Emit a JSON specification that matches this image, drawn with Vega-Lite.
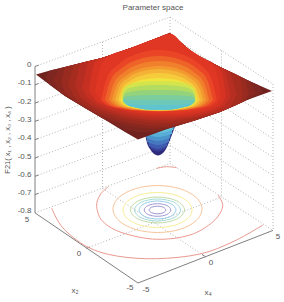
{"$schema":"https://vega.github.io/schema/vega-lite/v6.json","width":284,"height":302,"padding":0,"autosize":{"type":"fit","contains":"padding"},"background":"white","config":{"view":{"stroke":null}},
"encoding":{"x":{"field":"u","type":"quantitative","axis":null,"scale":{"domain":[0,284],"nice":false,"zero":false}}},
"layer":[
{"data":{"values":[
{"id":"a0","u":35,"v":66.5},{"id":"a0","u":170,"v":17},{"id":"a1","u":35,"v":84.8},{"id":"a1","u":170,"v":35.3},{"id":"a2","u":35,"v":103.1},{"id":"a2","u":170,"v":53.6},{"id":"a3","u":35,"v":121.4},{"id":"a3","u":170,"v":71.9},{"id":"a4","u":35,"v":139.7},{"id":"a4","u":170,"v":90.2},{"id":"a5","u":35,"v":158},{"id":"a5","u":170,"v":108.5},{"id":"a6","u":35,"v":176.3},{"id":"a6","u":170,"v":126.8},{"id":"a7","u":35,"v":194.6},{"id":"a7","u":170,"v":145.1},{"id":"a8","u":35,"v":212.9},{"id":"a8","u":170,"v":163.4},
{"id":"b0","u":170,"v":17},{"id":"b0","u":273,"v":84},{"id":"b1","u":170,"v":35.3},{"id":"b1","u":273,"v":102.3},{"id":"b2","u":170,"v":53.6},{"id":"b2","u":273,"v":120.6},{"id":"b3","u":170,"v":71.9},{"id":"b3","u":273,"v":138.9},{"id":"b4","u":170,"v":90.2},{"id":"b4","u":273,"v":157.2},{"id":"b5","u":170,"v":108.5},{"id":"b5","u":273,"v":175.5},{"id":"b6","u":170,"v":126.8},{"id":"b6","u":273,"v":193.8},{"id":"b7","u":170,"v":145.1},{"id":"b7","u":273,"v":212.1},{"id":"b8","u":170,"v":163.4},{"id":"b8","u":273,"v":230.4},
{"id":"c0","u":102.5,"v":42},{"id":"c0","u":102.5,"v":188.4},{"id":"c1","u":170,"v":17},{"id":"c1","u":170,"v":163.4},{"id":"c2","u":221.5,"v":50.5},{"id":"c2","u":221.5,"v":197},{"id":"c3","u":273,"v":84},{"id":"c3","u":273,"v":230.4},
{"id":"d0","u":86.5,"v":248.3},{"id":"d0","u":221.5,"v":197},{"id":"d1","u":205.5,"v":256.7},{"id":"d1","u":102.5,"v":188.4}
]},"mark":{"type":"line","stroke":"#b4b4b4","strokeWidth":1,"strokeDash":[1,2]},"encoding":{"y":{"field":"v","type":"quantitative","axis":null,"scale":{"domain":[302,0],"nice":false,"zero":false}},"detail":{"field":"id"}}},
{"data":{"values":[
{"id":"s0","u":35,"v":66.5},{"id":"s0","u":35,"v":212.9},{"id":"s1","u":35,"v":212.9},{"id":"s1","u":138,"v":283},{"id":"s2","u":138,"v":283},{"id":"s2","u":273,"v":230.4},
{"id":"t0","u":35,"v":66.5},{"id":"t0","u":38.5,"v":65.2},{"id":"t1","u":35,"v":84.8},{"id":"t1","u":38.5,"v":83.5},{"id":"t2","u":35,"v":103.1},{"id":"t2","u":38.5,"v":101.8},{"id":"t3","u":35,"v":121.4},{"id":"t3","u":38.5,"v":120.1},{"id":"t4","u":35,"v":139.7},{"id":"t4","u":38.5,"v":138.4},{"id":"t5","u":35,"v":158},{"id":"t5","u":38.5,"v":156.7},{"id":"t6","u":35,"v":176.3},{"id":"t6","u":38.5,"v":175},{"id":"t7","u":35,"v":194.6},{"id":"t7","u":38.5,"v":193.3},
{"id":"t8","u":86.5,"v":248.3},{"id":"t8","u":90,"v":247},{"id":"t9","u":205.5,"v":256.7},{"id":"t9","u":202,"v":254.5}
]},"mark":{"type":"line","stroke":"#808080","strokeWidth":1},"encoding":{"y":{"field":"v","type":"quantitative","axis":null,"scale":{"domain":[302,0],"nice":false,"zero":false}},"detail":{"field":"id"}}},
{"data":{"values":[
{"ring":"r1","i":0,"u":165.8,"v":210},{"ring":"r1","i":1,"u":163.4,"v":212.7},{"ring":"r1","i":2,"u":157.5,"v":213.8},{"ring":"r1","i":3,"u":151.6,"v":212.7},{"ring":"r1","i":4,"u":149.2,"v":210},{"ring":"r1","i":5,"u":151.6,"v":207.3},{"ring":"r1","i":6,"u":157.5,"v":206.2},{"ring":"r1","i":7,"u":163.4,"v":207.3},
{"ring":"r2","i":0,"u":170.8,"v":210},{"ring":"r2","i":1,"u":166.9,"v":214.5},{"ring":"r2","i":2,"u":157.5,"v":216.3},{"ring":"r2","i":3,"u":148.1,"v":214.5},{"ring":"r2","i":4,"u":144.2,"v":210},{"ring":"r2","i":5,"u":148.1,"v":205.5},{"ring":"r2","i":6,"u":157.5,"v":203.7},{"ring":"r2","i":7,"u":166.9,"v":205.5},
{"ring":"r3","i":0,"u":176,"v":210},{"ring":"r3","i":1,"u":170.6,"v":216.4},{"ring":"r3","i":2,"u":157.5,"v":219},{"ring":"r3","i":3,"u":144.4,"v":216.4},{"ring":"r3","i":4,"u":139,"v":210},{"ring":"r3","i":5,"u":144.4,"v":203.6},{"ring":"r3","i":6,"u":157.5,"v":201},{"ring":"r3","i":7,"u":170.6,"v":203.6},
{"ring":"r4","i":0,"u":180.5,"v":210},{"ring":"r4","i":1,"u":173.8,"v":217.8},{"ring":"r4","i":2,"u":157.5,"v":221},{"ring":"r4","i":3,"u":141.2,"v":217.8},{"ring":"r4","i":4,"u":134.5,"v":210},{"ring":"r4","i":5,"u":141.2,"v":202.2},{"ring":"r4","i":6,"u":157.5,"v":199},{"ring":"r4","i":7,"u":173.8,"v":202.2},
{"ring":"r5","i":0,"u":184.5,"v":210},{"ring":"r5","i":1,"u":176.6,"v":219.2},{"ring":"r5","i":2,"u":157.5,"v":223},{"ring":"r5","i":3,"u":138.4,"v":219.2},{"ring":"r5","i":4,"u":130.5,"v":210},{"ring":"r5","i":5,"u":138.4,"v":200.8},{"ring":"r5","i":6,"u":157.5,"v":197},{"ring":"r5","i":7,"u":176.6,"v":200.8},
{"ring":"r6","i":0,"u":192,"v":210},{"ring":"r6","i":1,"u":187.4,"v":218.8},{"ring":"r6","i":2,"u":174.8,"v":225.2},{"ring":"r6","i":3,"u":157.5,"v":227.5},{"ring":"r6","i":4,"u":140.3,"v":225.2},{"ring":"r6","i":5,"u":127.6,"v":218.8},{"ring":"r6","i":6,"u":123,"v":210},{"ring":"r6","i":7,"u":127.6,"v":201.2},{"ring":"r6","i":8,"u":140.3,"v":194.8},{"ring":"r6","i":9,"u":157.5,"v":192.5},{"ring":"r6","i":10,"u":174.8,"v":194.8},{"ring":"r6","i":11,"u":187.4,"v":201.2},
{"ring":"r7","i":0,"u":202,"v":209},{"ring":"r7","i":1,"u":196,"v":220.8},{"ring":"r7","i":2,"u":179.8,"v":229.4},{"ring":"r7","i":3,"u":157.5,"v":232.5},{"ring":"r7","i":4,"u":135.3,"v":229.4},{"ring":"r7","i":5,"u":119,"v":220.8},{"ring":"r7","i":6,"u":113,"v":209},{"ring":"r7","i":7,"u":119,"v":197.3},{"ring":"r7","i":8,"u":135.3,"v":188.7},{"ring":"r7","i":9,"u":157.5,"v":185.5},{"ring":"r7","i":10,"u":179.8,"v":188.7},{"ring":"r7","i":11,"u":196,"v":197.3}
]},"mark":{"type":"line","interpolate":"cardinal-closed","strokeWidth":1},"encoding":{"y":{"field":"v","type":"quantitative","axis":null,"scale":{"domain":[302,0],"nice":false,"zero":false}},"order":{"field":"i","type":"quantitative"},"stroke":{"field":"ring","type":"nominal","legend":null,"scale":{"domain":["r1","r2","r3","r4","r5","r6","r7","r8","r9","r10"],"range":["#9a92cc","#a09ad6","#98cdea","#a6dcd8","#c2dca6","#f7ee98","#f8c49a","#ec9a90","#e89a90","#e89a90"]}}}},
{"data":{"values":[
{"ring":"r8","i":0,"u":108.3,"v":186.7},{"ring":"r8","i":1,"u":100,"v":195},{"ring":"r8","i":2,"u":96.7,"v":206.7},{"ring":"r8","i":3,"u":103,"v":221.7},{"ring":"r8","i":4,"u":123,"v":233},{"ring":"r8","i":5,"u":156.7,"v":239.3},{"ring":"r8","i":6,"u":190,"v":235},{"ring":"r8","i":7,"u":213,"v":221.7},{"ring":"r8","i":8,"u":222.7,"v":206.7},{"ring":"r8","i":9,"u":218,"v":195},
{"ring":"r9","i":0,"u":51.7,"v":208.3},{"ring":"r9","i":1,"u":63,"v":228},{"ring":"r9","i":2,"u":87,"v":246.7},{"ring":"r9","i":3,"u":116.7,"v":256},{"ring":"r9","i":4,"u":156.7,"v":258.7},{"ring":"r9","i":5,"u":200,"v":254},{"ring":"r9","i":6,"u":233,"v":241.7},{"ring":"r9","i":7,"u":263,"v":225},
{"ring":"r10","i":0,"u":156.7,"v":168.3},{"ring":"r10","i":1,"u":166.7,"v":166.7},{"ring":"r10","i":2,"u":176.7,"v":167.7}
]},"mark":{"type":"line","interpolate":"cardinal","strokeWidth":1},"encoding":{"y":{"field":"v","type":"quantitative","axis":null,"scale":{"domain":[302,0],"nice":false,"zero":false}},"order":{"field":"i","type":"quantitative"},"stroke":{"field":"ring","type":"nominal","legend":null,"scale":{"domain":["r1","r2","r3","r4","r5","r6","r7","r8","r9","r10"],"range":["#9a92cc","#a09ad6","#98cdea","#a6dcd8","#c2dca6","#f7ee98","#f8c49a","#ec9a90","#e89a90","#e89a90"]}}}},
{"data":{"values":[
{"band":"n0","u":144.5,"top":120,"bot":130},{"band":"n0","u":147,"top":120,"bot":143},{"band":"n0","u":150,"top":120,"bot":149},{"band":"n0","u":153,"top":120,"bot":153},{"band":"n0","u":158,"top":120,"bot":155.5},{"band":"n0","u":163,"top":120,"bot":153},{"band":"n0","u":166,"top":120,"bot":149},{"band":"n0","u":170,"top":120,"bot":140},{"band":"n0","u":175.5,"top":120,"bot":125},
{"band":"n1","u":150.7,"top":120,"bot":149},{"band":"n1","u":158,"top":120,"bot":151.5},{"band":"n1","u":165.4,"top":120,"bot":149},
{"band":"n2","u":148.6,"top":120,"bot":146},{"band":"n2","u":158,"top":120,"bot":149},{"band":"n2","u":167.3,"top":120,"bot":146},
{"band":"n3","u":147,"top":120,"bot":142},{"band":"n3","u":158,"top":120,"bot":145},{"band":"n3","u":169,"top":120,"bot":142},
{"band":"n4","u":146.2,"top":120,"bot":138},{"band":"n4","u":158,"top":120,"bot":141},{"band":"n4","u":170.3,"top":120,"bot":138},
{"band":"n5","u":145.4,"top":120,"bot":134},{"band":"n5","u":158,"top":120,"bot":137},{"band":"n5","u":172,"top":120,"bot":134},
{"band":"n6","u":144.8,"top":120,"bot":130},{"band":"n6","u":158,"top":120,"bot":133},{"band":"n6","u":173.5,"top":120,"bot":130}
]},"mark":{"type":"area","orient":"vertical","interpolate":"monotone"},"encoding":{"y":{"field":"top","type":"quantitative","axis":null,"scale":{"domain":[302,0],"nice":false,"zero":false}},"y2":{"field":"bot"},"fill":{"field":"band","type":"nominal","legend":null,"scale":{"domain":["n0","n1","n2","n3","n4","n5","n6","A0","A1","A2","A3","A4","A5","A6","A7","A8","a","b","c","d","e","f","g","h","i","j","k","l","m"],"range":["#2f2a7a","#383f98","#3f5cb0","#4678c0","#4c94cc","#58aed6","#66c4da","#70221e","#7e2620","#8a2820","#982a20","#a62c20","#b62e21","#c63022","#d63323","#e03624","#ea4526","#ee6428","#f0802c","#f29a30","#f4b236","#f6cc3c","#f0e43e","#d4e44c","#b4dc60","#94d27c","#7ccc9c","#6cc8b8","#60c4d0"]}}}},
{"data":{"values":[
{"band":"A0","u":36,"top":74.5,"bot":74.5},{"band":"A0","u":50,"top":70.6,"bot":85},{"band":"A0","u":65,"top":67,"bot":96},{"band":"A0","u":85,"top":62,"bot":108},{"band":"A0","u":102,"top":58,"bot":118},{"band":"A0","u":125,"top":50,"bot":132},{"band":"A0","u":138,"top":45.6,"bot":139.5},{"band":"A0","u":152,"top":40,"bot":134.5},{"band":"A0","u":170,"top":33,"bot":128},{"band":"A0","u":193,"top":53,"bot":121},{"band":"A0","u":220,"top":67,"bot":112},{"band":"A0","u":247,"top":80,"bot":100},{"band":"A0","u":272,"top":91,"bot":91},
{"band":"A1","u":45,"top":77.1,"bot":77.1},{"band":"A1","u":50,"top":70.6,"bot":85},{"band":"A1","u":65,"top":67,"bot":96},{"band":"A1","u":85,"top":62,"bot":108},{"band":"A1","u":102,"top":58,"bot":118},{"band":"A1","u":125,"top":50,"bot":130},{"band":"A1","u":138,"top":45.6,"bot":132},{"band":"A1","u":152,"top":40,"bot":132.5},{"band":"A1","u":170,"top":33,"bot":128},{"band":"A1","u":193,"top":53,"bot":121},{"band":"A1","u":220,"top":67,"bot":112},{"band":"A1","u":247,"top":80,"bot":100},{"band":"A1","u":258,"top":85,"bot":95},{"band":"A1","u":263,"top":92,"bot":92},
{"band":"A2","u":53,"top":79.5,"bot":79.5},{"band":"A2","u":60,"top":68.2,"bot":92.3},{"band":"A2","u":65,"top":67,"bot":96},{"band":"A2","u":85,"top":62,"bot":108},{"band":"A2","u":102,"top":58,"bot":118},{"band":"A2","u":125,"top":50,"bot":125.2},{"band":"A2","u":138,"top":45.6,"bot":127.4},{"band":"A2","u":152,"top":40,"bot":128.8},{"band":"A2","u":170,"top":33,"bot":128},{"band":"A2","u":193,"top":53,"bot":121},{"band":"A2","u":220,"top":67,"bot":112},{"band":"A2","u":240,"top":76.6,"bot":103},{"band":"A2","u":250,"top":81.3,"bot":97},{"band":"A2","u":256,"top":92.9,"bot":92.9},
{"band":"A3","u":61,"top":81.8,"bot":81.8},{"band":"A3","u":65,"top":67,"bot":93.1},{"band":"A3","u":85,"top":62,"bot":108},{"band":"A3","u":102,"top":58,"bot":115.7},{"band":"A3","u":125,"top":50,"bot":122.2},{"band":"A3","u":138,"top":45.6,"bot":124.3},{"band":"A3","u":152,"top":40,"bot":125.9},{"band":"A3","u":170,"top":33,"bot":126.4},{"band":"A3","u":193,"top":53,"bot":121},{"band":"A3","u":220,"top":67,"bot":112},{"band":"A3","u":235,"top":73.8,"bot":105.8},{"band":"A3","u":245,"top":79,"bot":101},{"band":"A3","u":249,"top":93.7,"bot":93.7},
{"band":"A4","u":68,"top":83.9,"bot":83.9},{"band":"A4","u":74,"top":65.1,"bot":96.6},{"band":"A4","u":85,"top":62,"bot":105},{"band":"A4","u":102,"top":58,"bot":112.7},{"band":"A4","u":125,"top":50,"bot":119},{"band":"A4","u":138,"top":45.6,"bot":121.3},{"band":"A4","u":152,"top":40,"bot":122.8},{"band":"A4","u":170,"top":33,"bot":123.3},{"band":"A4","u":193,"top":53,"bot":121},{"band":"A4","u":220,"top":67,"bot":112},{"band":"A4","u":232,"top":72.8,"bot":106.7},{"band":"A4","u":240,"top":76.6,"bot":103},{"band":"A4","u":243,"top":94.4,"bot":94.4},
{"band":"A5","u":75,"top":85.9,"bot":85.9},{"band":"A5","u":80,"top":63.4,"bot":96.6},{"band":"A5","u":90,"top":60.8,"bot":104.2},{"band":"A5","u":102,"top":58,"bot":109.9},{"band":"A5","u":125,"top":50,"bot":116.6},{"band":"A5","u":138,"top":45.6,"bot":118.8},{"band":"A5","u":152,"top":40,"bot":120.3},{"band":"A5","u":170,"top":33,"bot":120.8},{"band":"A5","u":193,"top":53,"bot":118},{"band":"A5","u":220,"top":67,"bot":112},{"band":"A5","u":230,"top":71.8,"bot":106.9},{"band":"A5","u":237,"top":95.1,"bot":95.1},
{"band":"A6","u":82,"top":87.9,"bot":87.9},{"band":"A6","u":88,"top":61.3,"bot":98.5},{"band":"A6","u":98,"top":59,"bot":104.8},{"band":"A6","u":110,"top":55.2,"bot":109.9},{"band":"A6","u":125,"top":50,"bot":113.9},{"band":"A6","u":138,"top":45.6,"bot":116.2},{"band":"A6","u":152,"top":40,"bot":117.7},{"band":"A6","u":170,"top":33,"bot":118.3},{"band":"A6","u":193,"top":53,"bot":116.6},{"band":"A6","u":215,"top":64.4,"bot":111.1},{"band":"A6","u":225,"top":69.4,"bot":105.8},{"band":"A6","u":231,"top":95.8,"bot":95.8}
]},"mark":{"type":"area","orient":"vertical","interpolate":"linear"},"encoding":{"y":{"field":"top","type":"quantitative","axis":null,"scale":{"domain":[302,0],"nice":false,"zero":false}},"y2":{"field":"bot"},"fill":{"field":"band","type":"nominal","legend":null,"scale":{"domain":["n0","n1","n2","n3","n4","n5","n6","A0","A1","A2","A3","A4","A5","A6","A7","A8","a","b","c","d","e","f","g","h","i","j","k","l","m"],"range":["#2f2a7a","#383f98","#3f5cb0","#4678c0","#4c94cc","#58aed6","#66c4da","#70221e","#7e2620","#8a2820","#982a20","#a62c20","#b62e21","#c63022","#d63323","#e03624","#ea4526","#ee6428","#f0802c","#f29a30","#f4b236","#f6cc3c","#f0e43e","#d4e44c","#b4dc60","#94d27c","#7ccc9c","#6cc8b8","#60c4d0"]}}}},
{"data":{"values":[
{"band":"A7","u":89,"top":89.9,"bot":89.9},{"band":"A7","u":95,"top":62.3,"bot":99.4},{"band":"A7","u":105,"top":57,"bot":105.1},{"band":"A7","u":115,"top":53.5,"bot":108.6},{"band":"A7","u":130,"top":48.4,"bot":112.3},{"band":"A7","u":145,"top":42.7,"bot":114.5},{"band":"A7","u":157.5,"top":37.8,"bot":115.5},{"band":"A7","u":170,"top":33.5,"bot":115.6},{"band":"A7","u":185,"top":46,"bot":115},{"band":"A7","u":205,"top":59.2,"bot":111.5},{"band":"A7","u":215,"top":64.4,"bot":108},{"band":"A7","u":222,"top":73.3,"bot":103.7},{"band":"A7","u":226,"top":96.4,"bot":96.4},
{"band":"A8","u":95,"top":91.7,"bot":91.7},{"band":"A8","u":101,"top":65.5,"bot":100},{"band":"A8","u":110,"top":55.4,"bot":104.8},{"band":"A8","u":125,"top":50.2,"bot":109.3},{"band":"A8","u":140,"top":44.2,"bot":111.9},{"band":"A8","u":158,"top":37.8,"bot":113.5},{"band":"A8","u":170,"top":34,"bot":113.7},{"band":"A8","u":185,"top":46.2,"bot":112.7},{"band":"A8","u":200,"top":56.8,"bot":110.3},{"band":"A8","u":212,"top":64.5,"bot":106.5},{"band":"A8","u":218,"top":77.8,"bot":102.7},{"band":"A8","u":221,"top":97,"bot":97},
{"band":"a","u":101,"top":100,"bot":100},{"band":"a","u":106.8,"top":78.2,"bot":105},{"band":"a","u":118.4,"top":64.3,"bot":108.2},{"band":"a","u":135.8,"top":54.2,"bot":110.5},{"band":"a","u":159,"top":50,"bot":111.5},{"band":"a","u":182.2,"top":54.2,"bot":110.5},{"band":"a","u":199.6,"top":64.3,"bot":108.2},{"band":"a","u":211.2,"top":78.2,"bot":105},{"band":"a","u":217,"top":100,"bot":100},
{"band":"b","u":105,"top":100,"bot":100},{"band":"b","u":110.4,"top":80.8,"bot":104.9},{"band":"b","u":121.2,"top":68.6,"bot":108},{"band":"b","u":137.4,"top":59.7,"bot":110.3},{"band":"b","u":159,"top":56,"bot":111.2},{"band":"b","u":180.6,"top":59.7,"bot":110.3},{"band":"b","u":196.8,"top":68.6,"bot":108},{"band":"b","u":207.6,"top":80.8,"bot":104.9},{"band":"b","u":213,"top":100,"bot":100},
{"band":"c","u":109,"top":100,"bot":100},{"band":"c","u":114,"top":83,"bot":104.8},{"band":"c","u":124,"top":72.2,"bot":107.9},{"band":"c","u":139,"top":64.2,"bot":110.1},{"band":"c","u":159,"top":61,"bot":111},{"band":"c","u":179,"top":64.2,"bot":110.1},{"band":"c","u":194,"top":72.2,"bot":107.9},{"band":"c","u":204,"top":83,"bot":104.8},{"band":"c","u":209,"top":100,"bot":100},
{"band":"d","u":112,"top":100,"bot":100},{"band":"d","u":116.7,"top":85.2,"bot":104.7},{"band":"d","u":126.1,"top":75.7,"bot":107.7},{"band":"d","u":140.2,"top":68.8,"bot":109.9},{"band":"d","u":159,"top":66,"bot":110.8},{"band":"d","u":177.8,"top":68.8,"bot":109.9},{"band":"d","u":191.9,"top":75.7,"bot":107.7},{"band":"d","u":201.3,"top":85.2,"bot":104.7},{"band":"d","u":206,"top":100,"bot":100},
{"band":"e","u":115,"top":100,"bot":100},{"band":"e","u":119.4,"top":86.5,"bot":104.6},{"band":"e","u":128.2,"top":77.9,"bot":107.6},{"band":"e","u":141.4,"top":71.6,"bot":109.7},{"band":"e","u":159,"top":69,"bot":110.6},{"band":"e","u":176.6,"top":71.6,"bot":109.7},{"band":"e","u":189.8,"top":77.9,"bot":107.6},{"band":"e","u":198.6,"top":86.5,"bot":104.6},{"band":"e","u":203,"top":100,"bot":100},
{"band":"f","u":118,"top":100,"bot":100},{"band":"f","u":122.1,"top":88.2,"bot":104.5},{"band":"f","u":130.3,"top":80.7,"bot":107.4},{"band":"f","u":142.6,"top":75.2,"bot":109.5},{"band":"f","u":159,"top":73,"bot":110.4},{"band":"f","u":175.4,"top":75.2,"bot":109.5},{"band":"f","u":187.7,"top":80.7,"bot":107.4},{"band":"f","u":195.9,"top":88.2,"bot":104.5},{"band":"f","u":200,"top":100,"bot":100},
{"band":"g","u":120.5,"top":100,"bot":100},{"band":"g","u":124.4,"top":90,"bot":104.4},{"band":"g","u":132.1,"top":83.6,"bot":107.3},{"band":"g","u":143.6,"top":79.5,"bot":109.4},{"band":"g","u":159,"top":78,"bot":110.2},{"band":"g","u":174.4,"top":79.5,"bot":109.4},{"band":"g","u":185.9,"top":83.6,"bot":107.3},{"band":"g","u":193.7,"top":90,"bot":104.4},{"band":"g","u":197.5,"top":100,"bot":100},
{"band":"h","u":122,"top":100,"bot":100},{"band":"h","u":122.7,"top":91.5,"bot":102},{"band":"h","u":125.7,"top":86.7,"bot":104.4},{"band":"h","u":133.1,"top":83.5,"bot":107.1},{"band":"h","u":144.2,"top":81.6,"bot":109.2},{"band":"h","u":159,"top":81,"bot":110},{"band":"h","u":173.8,"top":81.6,"bot":109.2},{"band":"h","u":184.9,"top":83.5,"bot":107.1},{"band":"h","u":192.3,"top":86.7,"bot":104.4},{"band":"h","u":195.3,"top":91.5,"bot":102},{"band":"h","u":196,"top":100,"bot":100},
{"band":"i","u":123,"top":100,"bot":100},{"band":"i","u":123.7,"top":93.3,"bot":102},{"band":"i","u":126.6,"top":89.5,"bot":104.4},{"band":"i","u":133.8,"top":87,"bot":107.1},{"band":"i","u":144.6,"top":85.5,"bot":109.2},{"band":"i","u":159,"top":85,"bot":110},{"band":"i","u":173.4,"top":85.5,"bot":109.2},{"band":"i","u":184.2,"top":87,"bot":107.1},{"band":"i","u":191.4,"top":89.5,"bot":104.4},{"band":"i","u":194.3,"top":93.3,"bot":102},{"band":"i","u":195,"top":100,"bot":100},
{"band":"j","u":123,"top":100,"bot":100},{"band":"j","u":123.7,"top":95.5,"bot":102},{"band":"j","u":126.6,"top":93,"bot":104.4},{"band":"j","u":133.8,"top":91.3,"bot":107.1},{"band":"j","u":144.6,"top":90.3,"bot":109.2},{"band":"j","u":159,"top":90,"bot":110},{"band":"j","u":173.4,"top":90.3,"bot":109.2},{"band":"j","u":184.2,"top":91.3,"bot":107.1},{"band":"j","u":191.4,"top":93,"bot":104.4},{"band":"j","u":194.3,"top":95.5,"bot":102},{"band":"j","u":195,"top":100,"bot":100},
{"band":"k","u":123,"top":100,"bot":100},{"band":"k","u":123.7,"top":97.75,"bot":102},{"band":"k","u":126.6,"top":96.5,"bot":104.4},{"band":"k","u":133.8,"top":95.7,"bot":107.1},{"band":"k","u":144.6,"top":95.2,"bot":109.2},{"band":"k","u":159,"top":95,"bot":110},{"band":"k","u":173.4,"top":95.2,"bot":109.2},{"band":"k","u":184.2,"top":95.7,"bot":107.1},{"band":"k","u":191.4,"top":96.5,"bot":104.4},{"band":"k","u":194.3,"top":97.75,"bot":102},{"band":"k","u":195,"top":100,"bot":100},
{"band":"l","u":123,"top":100,"bot":100},{"band":"l","u":126.6,"top":100,"bot":104.4},{"band":"l","u":133.8,"top":100,"bot":107.1},{"band":"l","u":144.6,"top":100,"bot":109.2},{"band":"l","u":159,"top":100,"bot":110},{"band":"l","u":173.4,"top":100,"bot":109.2},{"band":"l","u":184.2,"top":100,"bot":107.1},{"band":"l","u":191.4,"top":100,"bot":104.4},{"band":"l","u":195,"top":100,"bot":100},
{"band":"m","u":126.6,"top":103.5,"bot":104.4},{"band":"m","u":133.8,"top":104.4,"bot":107.1},{"band":"m","u":144.6,"top":104.9,"bot":109.2},{"band":"m","u":159,"top":105,"bot":110},{"band":"m","u":173.4,"top":104.9,"bot":109.2},{"band":"m","u":184.2,"top":104.4,"bot":107.1},{"band":"m","u":191.4,"top":103.5,"bot":104.4}
]},"mark":{"type":"area","orient":"vertical","interpolate":"monotone"},"encoding":{"y":{"field":"top","type":"quantitative","axis":null,"scale":{"domain":[302,0],"nice":false,"zero":false}},"y2":{"field":"bot"},"fill":{"field":"band","type":"nominal","legend":null,"scale":{"domain":["n0","n1","n2","n3","n4","n5","n6","A0","A1","A2","A3","A4","A5","A6","A7","A8","a","b","c","d","e","f","g","h","i","j","k","l","m"],"range":["#2f2a7a","#383f98","#3f5cb0","#4678c0","#4c94cc","#58aed6","#66c4da","#70221e","#7e2620","#8a2820","#982a20","#a62c20","#b62e21","#c63022","#d63323","#e03624","#ea4526","#ee6428","#f0802c","#f29a30","#f4b236","#f6cc3c","#f0e43e","#d4e44c","#b4dc60","#94d27c","#7ccc9c","#6cc8b8","#60c4d0"]}}}},
{"data":{"values":[
{"label":"0","u":31.5,"v":65},{"label":"-0.1","u":31.5,"v":83.3},{"label":"-0.2","u":31.5,"v":101.6},{"label":"-0.3","u":31.5,"v":119.9},{"label":"-0.4","u":31.5,"v":138.2},{"label":"-0.5","u":31.5,"v":156.5},{"label":"-0.6","u":31.5,"v":174.8},{"label":"-0.7","u":31.5,"v":193.1},{"label":"-0.8","u":31.5,"v":211.4}
]},"mark":{"type":"text","align":"right","baseline":"middle","font":"Liberation Sans","fontSize":8,"fill":"#555555"},"encoding":{"y":{"field":"v","type":"quantitative","axis":null,"scale":{"domain":[302,0],"nice":false,"zero":false}},"text":{"field":"label"}}},
{"data":{"values":[
{"label":"Parameter space","u":153,"v":8},{"label":"5","u":27,"v":220},{"label":"0","u":79,"v":254},{"label":"-5","u":130,"v":288},{"label":"-5","u":146,"v":290},{"label":"0","u":211,"v":263},{"label":"5","u":278,"v":237},{"label":"x₂","u":75,"v":291},{"label":"x₄","u":208,"v":293}
]},"mark":{"type":"text","align":"center","baseline":"middle","font":"Liberation Sans","fontSize":8,"fill":"#555555"},"encoding":{"y":{"field":"v","type":"quantitative","axis":null,"scale":{"domain":[302,0],"nice":false,"zero":false}},"text":{"field":"label"}}},
{"data":{"values":[{"label":"F21( x₁ , x₂ , x₃ , x₄ )","u":8,"v":140}]},"mark":{"type":"text","align":"center","baseline":"middle","angle":270,"font":"Liberation Sans","fontSize":7.5,"fill":"#555555"},"encoding":{"y":{"field":"v","type":"quantitative","axis":null,"scale":{"domain":[302,0],"nice":false,"zero":false}},"text":{"field":"label"}}}
]}
